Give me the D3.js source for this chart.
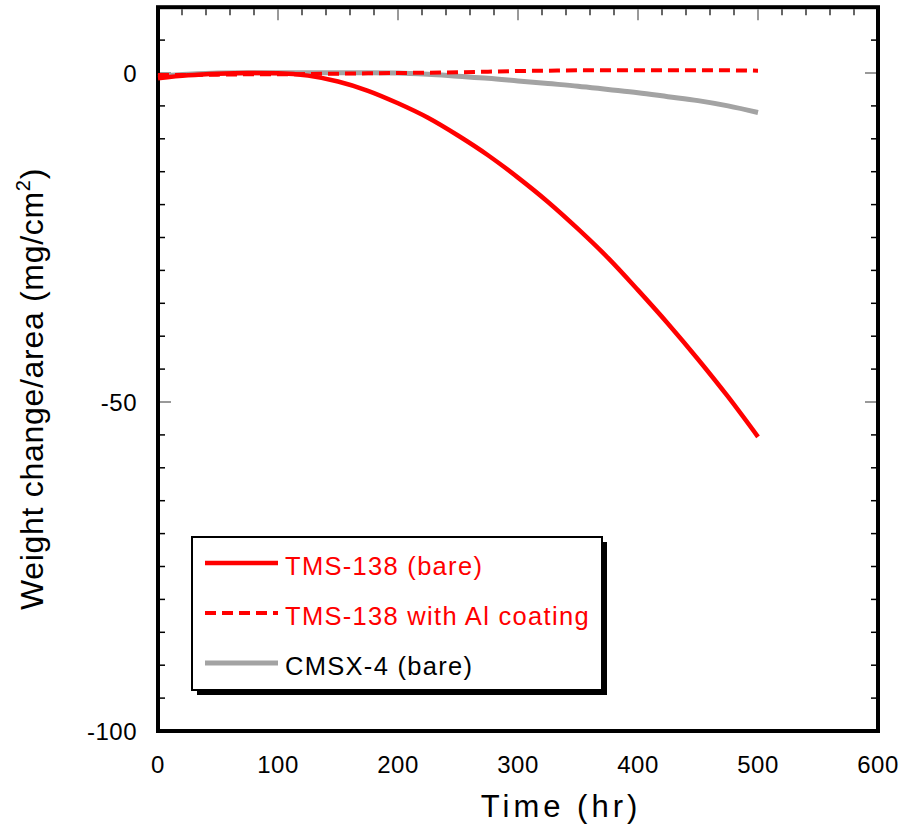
<!DOCTYPE html>
<html>
<head>
<meta charset="utf-8">
<script src="https://cdn.jsdelivr.net/npm/d3@7"></script>
<style>
  body { margin: 0; background: #fff; }
  svg.vis { display: block; font-family: "Liberation Sans", Arial, sans-serif; }
</style>
</head>
<body>
<svg class="vis" width="904" height="825"></svg>
<script>
// values
const times      = [0, 25, 50, 75, 100, 125, 150, 175, 200, 225, 250, 275, 300, 325, 350, 375, 400, 425, 450, 475, 500];
const tms_bare   = [-0.8, -0.35, -0.1, 0, -0.05, -0.4, -1.3, -2.7, -4.6, -6.8, -9.5, -12.5, -15.9, -19.6, -23.7, -28.1, -33.0, -38.1, -43.5, -49.2, -55.3];
const tms_coated = [-0.3, -0.3, -0.25, -0.2, -0.2, -0.15, -0.1, -0.05, 0, 0.05, 0.1, 0.2, 0.3, 0.35, 0.4, 0.4, 0.4, 0.4, 0.4, 0.4, 0.35];
const cmsx4_bare = [-0.5, -0.2, 0, 0.05, 0.05, 0.05, 0.05, 0.05, 0, -0.2, -0.5, -0.8, -1.2, -1.6, -2.0, -2.5, -3.0, -3.6, -4.2, -5.0, -6.0];

const series_names = ["TMS-138 (bare)", "TMS-138 with Al coating", "CMSX-4 (bare)"];
const x_ticks = [0, 100, 200, 300, 400, 500, 600];
const y_ticks = [0, -50, -100];

const vis = {

    dims: {
        left: 158, right: 878,
        top: 7.2, bottom: 731
    },

    styles: [
        { color: "#ff0000", width: 4.5, dash: null, text: "#ff0000" },
        { color: "#ff0000", width: 4, dash: "11,6", text: "#ff0000" },
        { color: "#a3a3a3", width: 5, dash: null, text: "#000000" }
    ],

    init: function() {
        vis.svg = d3.select("svg.vis");
        vis.x = d3.scaleLinear().domain([0, 600]).range([vis.dims.left, vis.dims.right]);
        vis.y = d3.scaleLinear().domain([-100, 10]).range([vis.dims.bottom, vis.dims.top]);
        vis.draw.frame();
        vis.draw.ticks();
        vis.draw.lines();
        vis.draw.legend();
        vis.draw.titles();
    },

    draw: {

        frame: function() {
            const d = vis.dims;
            vis.svg.append("rect")
              .attr("x", d.left).attr("y", d.top)
              .attr("width", d.right - d.left).attr("height", d.bottom - d.top)
              .attr("fill", "none").attr("stroke", "#000").attr("stroke-width", 4);
        },

        ticks: function() {
            const g = vis.svg.append("g");
            const d = vis.dims;

            // top ticks, inward, every 20
            d3.range(20, 600, 20).forEach(t => {
                const major = t % 100 === 0;
                g.append("line")
                  .attr("x1", vis.x(t)).attr("x2", vis.x(t))
                  .attr("y1", d.top + 2).attr("y2", d.top + (major ? 13 : 8))
                  .attr("stroke", major ? "#777" : "#000").attr("stroke-width", major ? 1.5 : 1.2);
            });

            // left and right ticks, inward, every 5
            d3.range(-95, 10, 5).forEach(v => {
                const major = v % 50 === 0;
                const len = major ? 13 : 7;
                const col = major ? "#777" : "#000";
                g.append("line")
                  .attr("x1", d.left + 2).attr("x2", d.left + len)
                  .attr("y1", vis.y(v)).attr("y2", vis.y(v))
                  .attr("stroke", col).attr("stroke-width", 1.5);
                g.append("line")
                  .attr("x1", d.right - 2).attr("x2", d.right - len)
                  .attr("y1", vis.y(v)).attr("y2", vis.y(v))
                  .attr("stroke", col).attr("stroke-width", 1.5);
            });

            g.selectAll("text.xt")
              .data(x_ticks)
              .join("text")
              .attr("class", "xt")
              .attr("x", t => vis.x(t))
              .attr("y", 773)
              .attr("text-anchor", "middle")
              .attr("font-size", 24)
              .attr("letter-spacing", 0.5)
              .text(t => t);

            g.selectAll("text.yt")
              .data(y_ticks)
              .join("text")
              .attr("class", "yt")
              .attr("x", 137)
              .attr("y", v => vis.y(v) + 9)
              .attr("text-anchor", "end")
              .attr("font-size", 24)
              .attr("letter-spacing", 0.5)
              .text(v => v);
        },

        lines: function() {
            const all = [tms_bare, tms_coated, cmsx4_bare];
            const line = d3.line()
              .x((v, i) => vis.x(times[i]))
              .y(v => vis.y(v))
              .curve(d3.curveMonotoneX);

            // gray first, then dashed, then solid red on top
            [2, 1, 0].forEach(k => {
                const s = vis.styles[k];
                vis.svg.append("path")
                  .attr("d", line(all[k]))
                  .attr("fill", "none")
                  .attr("stroke", s.color)
                  .attr("stroke-width", s.width)
                  .attr("stroke-dasharray", s.dash);
            });
        },

        legend: function() {
            const bx = 192, by = 537, bw = 410, bh = 153;
            const g = vis.svg.append("g");

            g.append("rect")
              .attr("x", bx + 5).attr("y", by + 5)
              .attr("width", bw).attr("height", bh)
              .attr("fill", "#000");

            g.append("rect")
              .attr("x", bx).attr("y", by)
              .attr("width", bw).attr("height", bh)
              .attr("fill", "#fff").attr("stroke", "#000").attr("stroke-width", 2);

            series_names.forEach((name, i) => {
                const s = vis.styles[i];
                const yy = 563 + i * 50;
                g.append("line")
                  .attr("x1", 205).attr("x2", 278)
                  .attr("y1", yy).attr("y2", yy)
                  .attr("stroke", s.color)
                  .attr("stroke-width", s.width)
                  .attr("stroke-dasharray", s.dash);
                g.append("text")
                  .attr("x", 285).attr("y", yy + 12)
                  .attr("font-size", 25.5)
                  .attr("letter-spacing", 1.3)
                  .attr("fill", s.text)
                  .text(name);
            });
        },

        titles: function() {
            vis.svg.append("text")
              .attr("x", 561).attr("y", 817)
              .attr("text-anchor", "middle")
              .attr("font-size", 31)
              .attr("letter-spacing", 4)
              .text("Time (hr)");

            const t = vis.svg.append("text")
              .attr("transform", "translate(43,389) rotate(-90)")
              .attr("text-anchor", "middle")
              .attr("font-size", 32)
              .attr("letter-spacing", 0.7);
            t.append("tspan").text("Weight change/area (mg/cm");
            t.append("tspan").attr("font-size", 20).attr("dy", -13).text("2");
            t.append("tspan").attr("dy", 13).text(")");
        }
    }
};

vis.init();
</script>
</body>
</html>
